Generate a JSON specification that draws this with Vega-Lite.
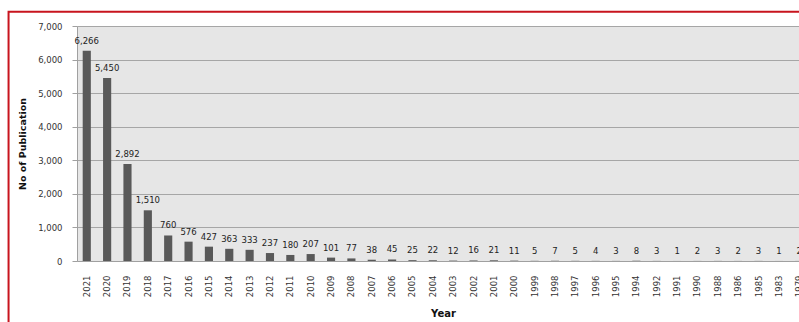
{
  "$schema": "https://vega.github.io/schema/vega-lite/v6.json",
  "autosize": {"type": "none"},
  "width": 722,
  "height": 235,
  "padding": {"left": 77, "top": 26, "right": 0, "bottom": 61},
  "background": "white",
  "config": {
    "view": {"fill": "#e6e6e6", "stroke": null},
    "font": "DejaVu Sans",
    "axis": {
      "labelFont": "DejaVu Sans",
      "titleFont": "DejaVu Sans",
      "labelColor": "#333333",
      "titleColor": "#111111",
      "domainColor": "#a0a0a0",
      "tickColor": "#a0a0a0",
      "gridColor": "#a6a6a6"
    }
  },
  "layer": [
    {
      "data": {
        "values": [
          {"year": "2021", "count": 6266},
          {"year": "2020", "count": 5450},
          {"year": "2019", "count": 2892},
          {"year": "2018", "count": 1510},
          {"year": "2017", "count": 760},
          {"year": "2016", "count": 576},
          {"year": "2015", "count": 427},
          {"year": "2014", "count": 363},
          {"year": "2013", "count": 333},
          {"year": "2012", "count": 237},
          {"year": "2011", "count": 180},
          {"year": "2010", "count": 207},
          {"year": "2009", "count": 101},
          {"year": "2008", "count": 77},
          {"year": "2007", "count": 38},
          {"year": "2006", "count": 45},
          {"year": "2005", "count": 25},
          {"year": "2004", "count": 22},
          {"year": "2003", "count": 12},
          {"year": "2002", "count": 16},
          {"year": "2001", "count": 21},
          {"year": "2000", "count": 11},
          {"year": "1999", "count": 5},
          {"year": "1998", "count": 7},
          {"year": "1997", "count": 5},
          {"year": "1996", "count": 4},
          {"year": "1995", "count": 3},
          {"year": "1994", "count": 8},
          {"year": "1992", "count": 3},
          {"year": "1991", "count": 1},
          {"year": "1990", "count": 2},
          {"year": "1988", "count": 3},
          {"year": "1986", "count": 2},
          {"year": "1985", "count": 3},
          {"year": "1983", "count": 1},
          {"year": "1979", "count": 2}
        ]
      },
      "encoding": {
        "x": {
          "field": "year",
          "type": "ordinal",
          "sort": null,
          "scale": {"range": [0, 732], "paddingInner": 0.6, "paddingOuter": 0.28},
          "axis": {
            "title": "Year",
            "titleFontSize": 10,
            "titleFontWeight": "bold",
            "titlePadding": 12,
            "labelAngle": -90,
            "labelFontSize": 8.5,
            "labelPadding": 14,
            "ticks": false,
            "domain": true
          }
        },
        "y": {
          "field": "count",
          "type": "quantitative",
          "scale": {"domain": [0, 7000], "nice": false},
          "axis": {
            "title": "No of Publication",
            "titleFontSize": 9.5,
            "titleFontWeight": "bold",
            "titlePadding": 10,
            "values": [0, 1000, 2000, 3000, 4000, 5000, 6000, 7000],
            "format": ",d",
            "labelFontSize": 8.5,
            "labelPadding": 10,
            "tickSize": 5,
            "grid": true
          }
        }
      },
      "layer": [
        {"mark": {"type": "bar", "color": "#595959", "clip": false}},
        {
          "mark": {
            "type": "text",
            "baseline": "bottom",
            "dy": -5,
            "fontSize": 8.5,
            "color": "#222222",
            "clip": false
          },
          "encoding": {"text": {"field": "count", "type": "quantitative", "format": ",d"}}
        }
      ]
    },
    {
      "data": {"values": [{"frame": "page"}]},
      "mark": {"type": "rect", "filled": false, "stroke": "#c8141e", "strokeWidth": 2, "clip": false},
      "encoding": {
        "x": {"datum": -0.0948, "type": "quantitative", "scale": {"domain": [0, 1], "nice": false, "zero": false}, "axis": null},
        "x2": {"datum": 1.2},
        "y": {"datum": 1.061, "type": "quantitative", "scale": {"domain": [0, 1], "nice": false, "zero": false}, "axis": null},
        "y2": {"datum": -0.5}
      }
    }
  ],
  "resolve": {"scale": {"x": "independent", "y": "independent"}}
}
